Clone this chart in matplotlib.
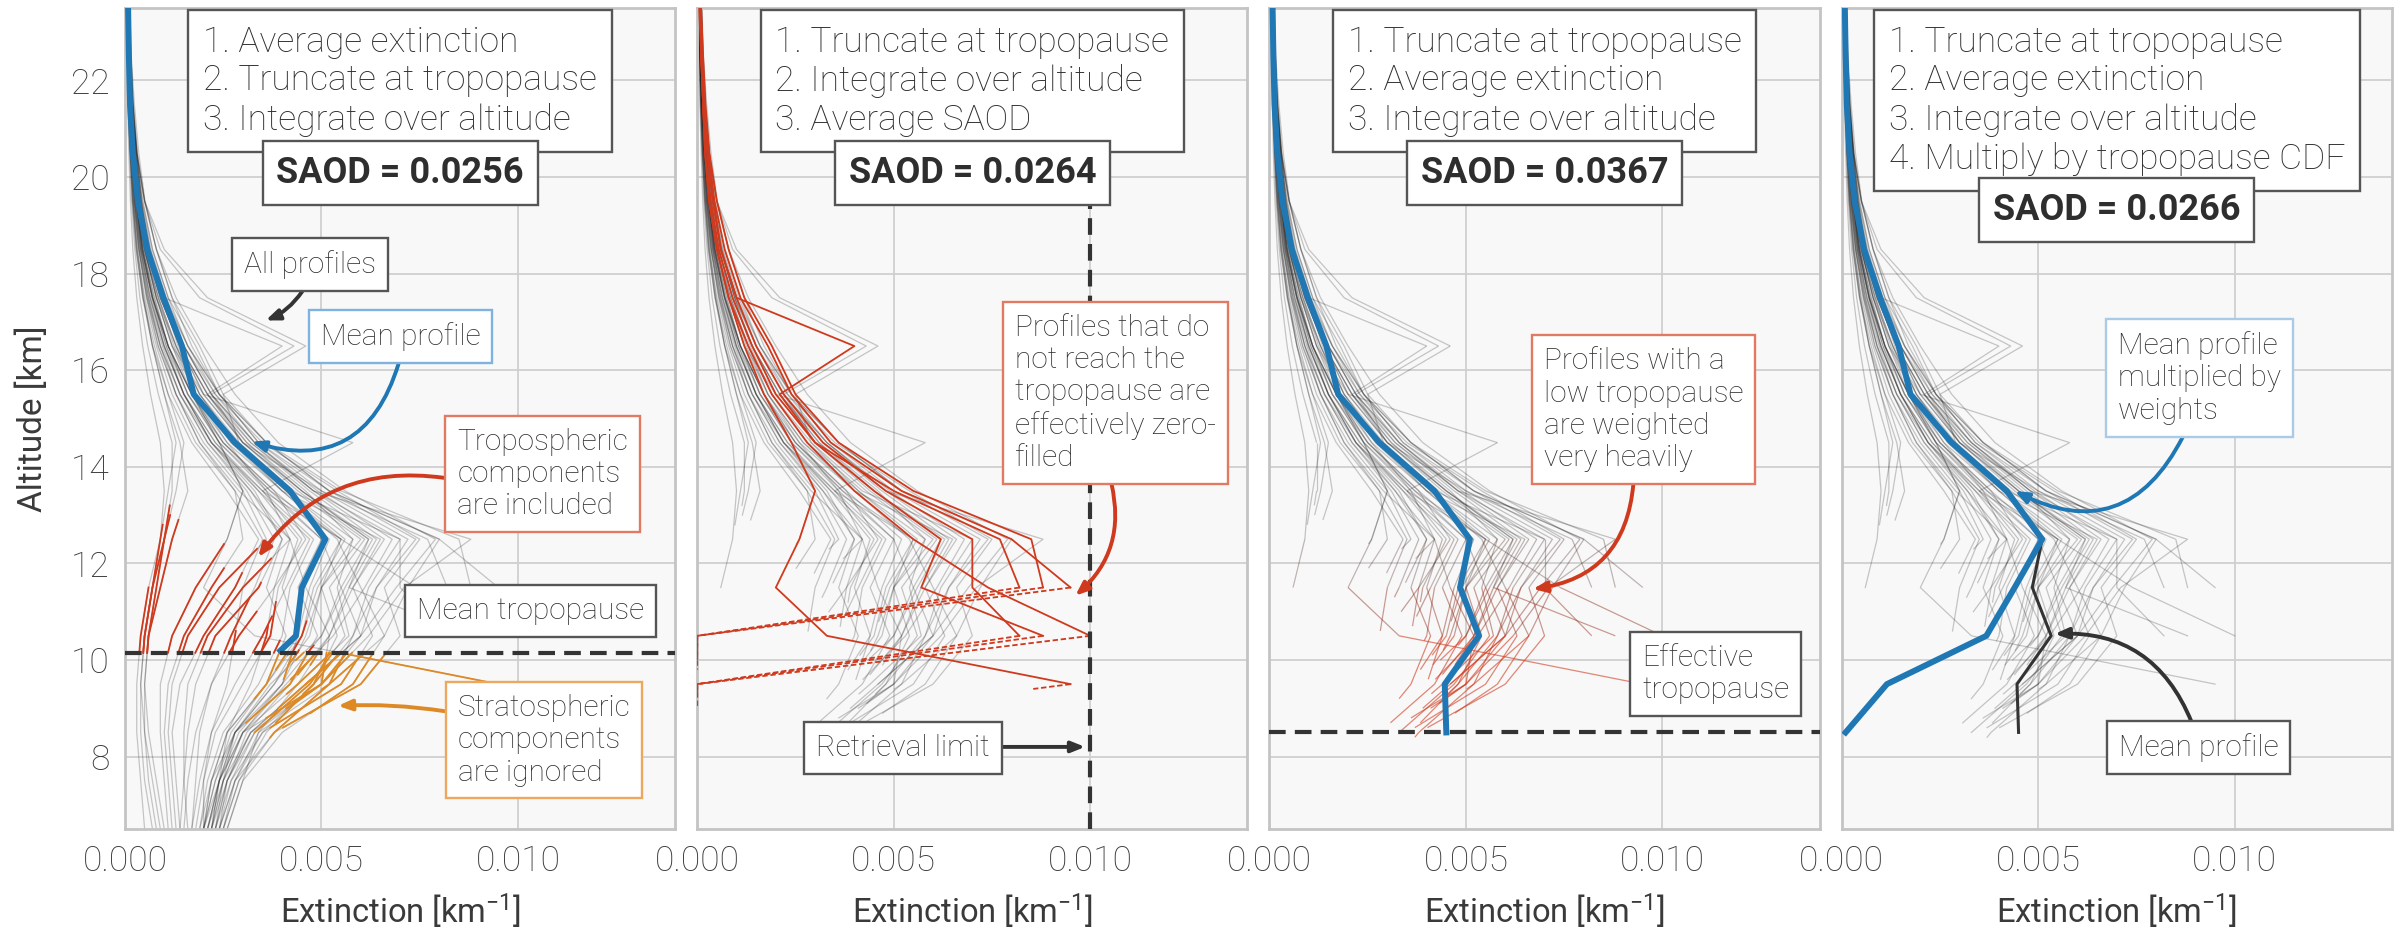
import numpy as np
import matplotlib
matplotlib.use("Agg")
import matplotlib.pyplot as plt
from matplotlib.collections import LineCollection

# ---------------------------------------------------------------- data
# altitude levels [km]
ALT = np.array([23.5, 22.5, 21.5, 20.5, 19.5, 18.5, 17.5, 16.5, 15.5,
                14.5, 13.5, 12.5, 11.5, 10.5, 9.5, 8.5, 7.5, 6.5])

nan = np.nan
# individual extinction profiles, in units of 1e-4 km^-1, one value per level
P01 = [0.6, 0.9, 1.3, 1.9, 2.9, 4.8, 8.5, 13, 18, 27, 41, 56, 49, 45, 38, 28, 24, 21]
P02 = [0.9, 1.1, 1.6, 2.4, 3.8, 6.2, 10, 15, 22, 33, 49, 68, 61, 53, 41, 30, 25, 22]
P03 = [0.5, 0.7, 1.1, 1.7, 2.5, 3.9, 6, 9, 14, 22, 35, 45, 39, 37, 30, 23, 20, 18]
P04 = [1.1, 1.5, 2.1, 3.1, 5, 8, 13, 20, 28, 39, 56, 79, 69, 60, 46, 32, 26, 24]
P05 = [0.5, 0.8, 1.3, 1.9, 2.8, 4.2, 7, 11, 16, 24, 36, 50, 44, 49, 42, 28, 22, 19]
P06 = [0.8, 1.1, 1.8, 2.7, 4, 6, 9.5, 14, 20, 30, 44, 61, 52, 56, 47, 33, 26, 22]
P07 = [0.9, 1.3, 2, 3, 5, 9, 19, 43, 22, 30, 45, 62, 55, 50, 40, 30, 25, 22]
P08 = [0.8, 1.1, 1.8, 2.9, 5, 10, 21, 46, 25, 29, 41, 58, 50, 47, 38, 28, 24, 21]
P09 = [0.4, 0.6, 0.9, 1.3, 1.9, 2.9, 4.6, 7.5, 11, 15, 13, 10, 8, 6, 5, 5, 6, 8]
P10 = [0.5, 0.7, 1, 1.4, 2.1, 3.2, 4.8, 7, 10, 13, 11, 9, 7, 5, 4, 5, 7, 9]
P11 = [0.8, 1.1, 1.6, 2.2, 3.2, 5.2, 8.4, 12.5, 18, 26, 36, 42, 30, 21, 16, 15, 15, 16]
P12 = [0.7, 1, 1.4, 2, 3, 4.3, 7, 10.5, 15, 22, 32, 40, 34, 23, 18, 16, 15, 14]
P13 = [0.6, 0.9, 1.4, 2, 3, 4.6, 7.2, 11, 17, 25, 38, 46, 38, 29, 22, 19, 18, 17]
P14 = [1, 1.4, 2, 2.9, 4.2, 6.3, 9.5, 13.5, 19, 28, 42, 70, 62, 58, 52, 38, 28, 24]
P15 = [0.9, 1.2, 1.7, 2.3, 3.3, 5, 8, 12, 18, 27, 40, 65, 58, 63, 55, 35, 27, 23]
P16 = [0.5, 0.8, 1.1, 1.5, 2.2, 3.5, 5.6, 9, 14, 21, 32, 42, 46, 52, 50, 30, 24, 20]
P17 = [0.9, 1.1, 1.6, 2.5, 3.6, 5.6, 9, 14, 21, 31, 46, 58, 54, 57, 44, 30, 24, 22]
P18 = [0.5, 0.7, 1, 1.5, 2.1, 3.1, 5, 8, 12, 18, 28, 35, 30, 28, 26, 22, 20, 20]
P19 = [1.2, 1.6, 2.4, 3.5, 5.1, 8, 12, 17, 24, 34, 50, 72, 64, 60, 46, 32, 26, 23]
P20 = [0.5, 0.9, 1.4, 2, 2.9, 4.1, 6.3, 10, 15, 22, 33, 40, 36, 41, 36, 26, 22, 20]
P21 = [0.8, 1.1, 1.5, 2.1, 3.1, 5, 8, 12, 20, 58, 35, 55, 48, 45, 36, 27, 23, 20]
P22 = [1.1, 1.5, 2.1, 3.1, 4.6, 7, 11, 16, 23, 33, 48, 88, 71, 62, 50, 33, 27, 24]
P23 = [0.5, 0.8, 1.2, 1.8, 2.6, 4, 6.5, 10, 15, 23, 35, 48, 42, 40, 34, 25, 21, 19]
P24 = [0.8, 1, 1.5, 2.1, 3, 4.6, 7.6, 11, 16, 25, 38, 52, 47, 44, 36, 26, 22, 20]
P25 = [0.6, 0.8, 1.2, 1.7, 2.4, 3.6, 5.8, 9, 13, 19, 28, 30, 22, 15, 11, 10, 11, 12]
P26 = [0.7, 1, 1.4, 2, 2.8, 4.4, 7, 11, 17, 24, 30, 26, 18, 12, 9, 9, 10, 11]
P27 = [1, 1.3, 1.9, 2.7, 4, 6.4, 10, 16, 24, 36, 52, 80, 72, 66, 58, 40, 30, 26]
P28 = [0.7, 1, 1.4, 2, 3, 4.5, 7, 11, 17, 26, 40, 54, 60, 66, 52, 34, 28, 24]
P29 = [0.3, 0.5, 0.7, 1, 1.4, 2, 3, 4.5, 6.5, 9, 10, 9, 6, 4, 3, 3, 4, 5]
P30 = [0.6, 0.9, 1.3, 1.8, 2.6, 4, 6.4, 9.8, 15, 22, 34, 47, 41, 35, 28, 22, 19, 17]
P31 = [0.7, 1.0, 1.5, 2.2, 3.3, 5.4, 9, 14, 21, 32, 47, 64, 57, 52, 42, 31, 26, 23]
P32 = [0.4, 0.6, 0.9, 1.3, 1.9, 2.8, 4.5, 7, 11, 17, 26, 34, 28, 20, 14, 12, 13, 14]
P33 = [0.6, 0.9, 1.3, 1.9, 2.8, 4.4, 7, 10.5, 16, 24, 37, 55, 50, 54, 48, 36, 29, 25]
P34 = [0.9, 1.2, 1.8, 2.6, 3.9, 6, 9.6, 15, 22, 33, 48, 66, 58, 52, 44, 34, 30, 26]
P35 = [0.5, 0.7, 1, 1.4, 2, 3, 4.6, 7, 10, 14, 16, 12, 9, 6, 5, 6, 8, 10]
P36 = [0.6, 0.8, 1.2, 1.7, 2.5, 3.8, 6, 9.5, 14, 21, 31, 38, 33, 27, 22, 18, 16, 15]
P37 = [1, 1.3, 1.8, 2.6, 3.8, 6, 9.5, 15, 23, 35, 54, 75, 66, 70, 60, 38, 29, 25]
P38 = [0.8, 1.1, 1.6, 2.3, 3.4, 5.3, 8.6, 13, 19, 29, 43, 60, 50, 46, 40, 29, 24, 21]
P39 = [0.5, 0.8, 1.2, 1.7, 2.4, 3.6, 5.6, 8.5, 13, 20, 30, 36, 24, 16, 12, 11, 12, 13]
P40 = [0.7, 1, 1.4, 2, 3, 4.6, 7.4, 11, 17, 25, 37, 50, 55, 60, 50, 32, 25, 21]
P41 = [0.9, 1.2, 1.7, 2.4, 3.5, 5.5, 9, 14, 21, 31, 45, 63, 56, 50, 37, 28, 25, 23]
P42 = [0.4, 0.6, 0.8, 1.2, 1.7, 2.5, 3.8, 5.8, 8.5, 12, 12, 10, 7, 5, 4, 4, 5, 7]
P43 = [0.6, 0.9, 1.3, 1.9, 2.8, 4.3, 6.8, 10, 15, 23, 34, 44, 40, 44, 40, 28, 23, 20]
P44 = [1.1, 1.4, 2, 2.9, 4.3, 6.6, 10.5, 16, 24, 36, 52, 74, 64, 58, 48, 35, 28, 25]
P45 = [0.5, 0.7, 1.1, 1.6, 2.3, 3.5, 5.4, 8.4, 13, 19, 29, 42, 38, 36, 32, 26, 24, 22]
# profiles that stop at the retrieval limit (no data below)
R01 = [0.9, 1.3, 1.9, 2.8, 4.4, 7, 11, 18, 24, 34, 52, 80, 95, nan, nan, nan, nan, nan]
R02 = [1, 1.5, 2.1, 3.1, 5, 8, 12, 19, 25, 36, 55, 85, 88, nan, nan, nan, nan, nan]
R03 = [0.8, 1, 1.8, 3, 4.2, 6, 10, 40, 21, 30, 50, 77, 82, nan, nan, nan, nan, nan]
R04 = [0.9, 1.1, 1.5, 2.5, 4, 6, 10, 15, 22, 32, 48, 70, 70, 82, nan, nan, nan, nan]
R05 = [0.8, 1, 1.5, 2, 3.5, 5.5, 9, 14, 20, 30, 45, 62, 57, 88, nan, nan, nan, nan]
R06 = [0.9, 1, 1.5, 2, 3, 5, 8, 13, 19, 28, 40, 55, 74, 100, nan, nan, nan, nan]
R07 = [0.5, 1, 1.5, 2, 3, 5, 8, 12, 17, 24, 30, 26, 20, 33, 95, nan, nan, nan]

# tropopause altitude of each profile [km]
TROP_P = [10.8, 9.6, 11.2, 9.0, 8.7, 8.5, 10.3, 9.9, 13.0, 12.8,
          12.1, 11.6, 11.0, 8.4, 8.6, 8.8, 9.3, 10.6, 9.5, 9.2,
          10.1, 9.1, 10.4, 9.8, 11.9, 12.4, 8.9, 9.4, 11.5, 10.9,
          9.7, 11.8, 8.7, 9.9, 12.9, 11.3, 8.6, 10.2, 12.3, 9.0,
          10.0, 13.2, 9.6, 9.3, 10.7]
TROP_R = [10.0, 9.8, 10.3, 9.2, 9.0, 9.3, 9.4]

# mean profiles [km^-1]
MEAN_ALL_ALT = [23.5, 22.5, 21.5, 20.5, 19.5, 18.5, 17.5, 16.5, 15.5,
                14.5, 13.5, 12.5, 11.5, 10.5, 10.15]
MEAN_ALL_EXT = [0.00008, 0.0001, 0.00013, 0.0002, 0.00033, 0.00057, 0.00098,
                0.00145, 0.00175, 0.0028, 0.0042, 0.0051, 0.0045, 0.00435, 0.0039]
MEAN_TRUNC_ALT = [23.5, 22.5, 21.5, 20.5, 19.5, 18.5, 17.5, 16.5, 15.5,
                  14.5, 13.5, 12.5, 11.5, 10.5, 9.5, 8.5]
MEAN_TRUNC_EXT = [0.00008, 0.0001, 0.00013, 0.0002, 0.00033, 0.00057, 0.00098,
                  0.00145, 0.00175, 0.0028, 0.0042, 0.0051, 0.00485, 0.00533,
                  0.00446, 0.0045]
WEIGHTED_EXT = [0.00008, 0.0001, 0.00013, 0.0002, 0.00033, 0.00057, 0.00098,
                0.00145, 0.00175, 0.0028, 0.0042, 0.0051, 0.0044, 0.00368,
                0.00115, 0.0001]

MEAN_TROP = 10.15
EFFECTIVE_TROP = 8.5
RETRIEVAL_LIMIT = 0.010

STEPS = [
    "1. Average extinction\n2. Truncate at tropopause\n3. Integrate over altitude",
    "1. Truncate at tropopause\n2. Integrate over altitude\n3. Average SAOD",
    "1. Truncate at tropopause\n2. Average extinction\n3. Integrate over altitude",
    "1. Truncate at tropopause\n2. Average extinction\n3. Integrate over altitude\n"
    "4. Multiply by tropopause CDF",
]
SAOD = [0.0256, 0.0264, 0.0367, 0.0266]

# ---------------------------------------------------------------- style
plt.rcParams.update({
    "font.family": ["Roboto", "DejaVu Sans"],
    "font.weight": "light",
    "mathtext.default": "regular",
    "text.color": "#333333",
})

BLUE = "#1f77b4"
RED = "#cf3a1e"
ORANGE = "#dd8a26"
DARK = "#333333"
GRAY = dict(color="#1e1e1e", lw=0.9, alpha=0.24)

profiles = [np.array(p, float) * 1e-4 for p in
            [P01, P02, P03, P04, P05, P06, P07, P08, P09, P10,
             P11, P12, P13, P14, P15, P16, P17, P18, P19, P20,
             P21, P22, P23, P24, P25, P26, P27, P28, P29, P30,
             P31, P32, P33, P34, P35, P36, P37, P38, P39, P40,
             P41, P42, P43, P44, P45]]
limited = [np.array(p, float) * 1e-4 for p in [R01, R02, R03, R04, R05, R06, R07]]
all_prof = profiles + limited
all_trop = TROP_P + TROP_R


def piece(vals, z_top, z_bot):
    """Part of a profile between z_bot and z_top (interpolated ends)."""
    ok = ~np.isnan(vals)
    z, v = ALT[ok], vals[ok]
    if z.size < 2:
        return None
    z_top = min(z_top, z[0])
    z_bot = max(z_bot, z[-1])
    if z_bot >= z_top:
        return None
    inner = (z < z_top) & (z > z_bot)
    zz = np.concatenate([[z_top], z[inner], [z_bot]])
    xx = np.interp(zz, z[::-1], v[::-1])
    return xx, zz


def lowest_valid(vals):
    return ALT[~np.isnan(vals)][-1]


fig, axes = plt.subplots(1, 4, figsize=(24.03, 9.36), dpi=100, sharey=True)
fig.subplots_adjust(left=0.052, right=0.9954, top=0.9915, bottom=0.1143, wspace=0.04)

for ax in axes:
    ax.set_facecolor("#f8f8f8")
    ax.set_xlim(0, 0.014)
    ax.set_ylim(6.5, 23.5)
    ax.set_xticks([0, 0.005, 0.010])
    ax.set_xticklabels(["0.000", "0.005", "0.010"])
    ax.set_yticks(range(8, 23, 2))
    ax.grid(True, color="#d0d0d0", lw=1.3)
    ax.set_axisbelow(True)
    ax.tick_params(length=0, labelsize=25.5, labelcolor="#3a3a3a", pad=11)
    for s in ax.spines.values():
        s.set_color("#c4c4c4")
        s.set_linewidth(2)
    ax.set_xlabel("Extinction [km$^{-1}$]", fontsize=23.5, color="#3a3a3a", labelpad=10)
axes[0].set_ylabel("Altitude [km]", fontsize=24, color="#3a3a3a", labelpad=16)
for ax in axes[1:]:
    ax.tick_params(labelleft=False)


def note(ax, x, y, text, edge, size=21.5, weight="light", trans=None, pad=0.4, z=12):
    kw = {} if trans is None else {"transform": trans}
    ax.text(x, y, text, ha="center", va="center", fontsize=size, color="#2e2e2e",
            fontweight=weight, multialignment="left", zorder=z,
            bbox=dict(boxstyle=f"square,pad={pad}", fc="white", ec=edge, lw=1.7), **kw)


def arrow(ax, start, end, color, rad):
    ax.annotate("", xy=end, xytext=start, zorder=11,
                arrowprops=dict(arrowstyle="-|>,head_length=0.8,head_width=0.32",
                                color=color, lw=2.8, shrinkA=0, shrinkB=0,
                                connectionstyle=f"arc3,rad={rad}"))


def header(ax, i, yc_box, yc_saod):
    note(ax, 0.5, yc_box, STEPS[i], "#555555", size=25.5, trans=ax.transAxes, pad=0.42)
    note(ax, 0.5, yc_saod, f"SAOD = {SAOD[i]:.4f}", "#555555", size=26, weight="bold",
         trans=ax.transAxes, pad=0.38, z=13)


# ---------------------------------------------------------------- panel 1
ax = axes[0]
for v, tp in zip(all_prof, all_trop):
    ok = ~np.isnan(v)
    ax.plot(v[ok], ALT[ok], **GRAY)
    if tp > MEAN_TROP:
        seg = piece(v, tp, MEAN_TROP)
        col = RED
    else:
        seg = piece(v, MEAN_TROP, tp)
        col = ORANGE
    if seg is not None:
        ax.plot(seg[0], seg[1], color=col, lw=1.3, zorder=3)
ax.plot(MEAN_ALL_EXT, MEAN_ALL_ALT, color=BLUE, lw=4.3, zorder=5, solid_capstyle="butt")
ax.axhline(MEAN_TROP, color=DARK, lw=3, ls=(0, (4, 2.2)), zorder=6)
header(ax, 0, 0.911, 0.799)
note(ax, 0.00471, 18.19, "All profiles", "#555555")
arrow(ax, (0.00451, 17.63), (0.00358, 17.03), DARK, -0.15)
note(ax, 0.00701, 16.69, "Mean profile", "#7fb2de")
arrow(ax, (0.00696, 16.13), (0.00322, 14.52), BLUE, -0.5)
note(ax, 0.01063, 13.85, "Tropospheric\ncomponents\nare included", "#e27a63")
arrow(ax, (0.00813, 13.77), (0.00339, 12.13), RED, 0.3)
note(ax, 0.01033, 11.02, "Mean tropopause", "#555555")
note(ax, 0.01066, 8.34, "Stratospheric\ncomponents\nare ignored", "#eba85e")
arrow(ax, (0.00813, 8.94), (0.00542, 9.05), ORANGE, 0.05)

# ---------------------------------------------------------------- panel 2
ax = axes[1]
for v, tp in zip(profiles, TROP_P):
    seg = piece(v, ALT[0], tp)
    ax.plot(seg[0], seg[1], **GRAY)
for v, tp in zip(limited, TROP_R):
    z_last = lowest_valid(v)
    seg = piece(v, ALT[0], max(tp, z_last))
    ax.plot(seg[0], seg[1], color=RED, lw=1.3, zorder=3)
    if tp < z_last:
        seg = piece(np.nan_to_num(v), z_last, tp)
        ax.plot(seg[0], seg[1], color=RED, lw=1.3, ls=(0, (3, 1.5)), zorder=3)
ax.plot([RETRIEVAL_LIMIT, RETRIEVAL_LIMIT], [6.5, 19.47], color=DARK, lw=3,
        ls=(0, (4, 2.2)), zorder=6)
header(ax, 1, 0.911, 0.799)
note(ax, 0.01064, 15.53, "Profiles that do\nnot reach the\ntropopause are\neffectively zero-\nfilled", "#e27a63")
arrow(ax, (0.01054, 13.65), (0.00962, 11.33), RED, -0.3)
note(ax, 0.00523, 8.18, "Retrieval limit", "#555555")
arrow(ax, (0.00774, 8.20), (0.00987, 8.20), DARK, 0)

# ---------------------------------------------------------------- panel 3
ax = axes[2]
n_total = len(all_prof)
z_bottom = np.array([max(tp, lowest_valid(v)) for v, tp in zip(all_prof, all_trop)])
g_rgb = np.array([0.12, 0.12, 0.12])
r_rgb = np.array(matplotlib.colors.to_rgb(RED))
segs, cols = [], []
for v, tp in zip(all_prof, all_trop):
    seg = piece(v, ALT[0], tp)
    if seg is None:
        continue
    x, z = seg
    for k in range(len(x) - 1):
        zm = 0.5 * (z[k] + z[k + 1])
        n_here = max(np.sum(z_bottom <= zm), 1)
        w = n_total / n_here
        t = np.clip((w - 1.0) / 0.7, 0, 1)
        rgb = (1 - t) * g_rgb + t * r_rgb
        segs.append([(x[k], z[k]), (x[k + 1], z[k + 1])])
        cols.append((*rgb, 0.24 + 0.36 * t))
ax.add_collection(LineCollection(segs, colors=cols, linewidths=0.9, zorder=2))
ax.plot(MEAN_TRUNC_EXT, MEAN_TRUNC_ALT, color=BLUE, lw=4.3, zorder=5)
ax.axhline(EFFECTIVE_TROP, color=DARK, lw=3, ls=(0, (4, 2.2)), zorder=6)
header(ax, 2, 0.911, 0.799)
note(ax, 0.00952, 15.18, "Profiles with a\nlow tropopause\nare weighted\nvery heavily", "#e27a63")
arrow(ax, (0.00926, 13.65), (0.0067, 11.47), RED, -0.4)
note(ax, 0.01135, 9.71, "Effective\ntropopause", "#555555")

# ---------------------------------------------------------------- panel 4
ax = axes[3]
for v, tp in zip(all_prof, all_trop):
    seg = piece(v, ALT[0], tp)
    if seg is not None:
        ax.plot(seg[0], seg[1], **GRAY)
ax.plot(MEAN_TRUNC_EXT[11:], MEAN_TRUNC_ALT[11:], color=DARK, lw=2.2, zorder=5)
ax.plot(WEIGHTED_EXT, MEAN_TRUNC_ALT, color=BLUE, lw=4.3, zorder=6)
header(ax, 3, 0.887, 0.754)
note(ax, 0.0091, 15.84, "Mean profile\nmultiplied by\nweights", "#a9cbe8")
arrow(ax, (0.00868, 14.62), (0.0044, 13.5), BLUE, -0.5)
note(ax, 0.00908, 8.18, "Mean profile", "#555555")
arrow(ax, (0.0089, 8.72), (0.00542, 10.54), DARK, 0.35)

fig.savefig("out.png", dpi=100)
